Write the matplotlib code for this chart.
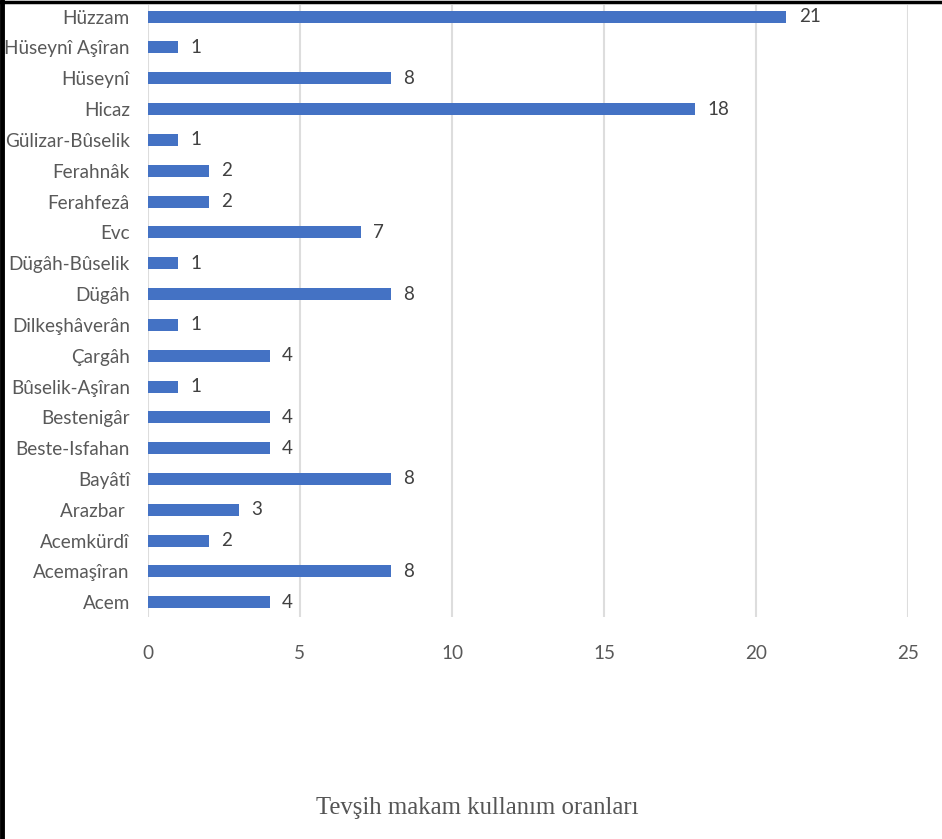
import matplotlib
matplotlib.use('Agg')
import matplotlib.pyplot as plt
from matplotlib.lines import Line2D

# makam names, bottom to top as drawn
makams = ['Acem', 'Acemaşîran', 'Acemkürdî', 'Arazbar ', 'Bayâtî', 'Beste-Isfahan',
          'Bestenigâr', 'Bûselik-Aşîran', 'Çargâh', 'Dilkeşhâverân', 'Dügâh',
          'Dügâh-Bûselik', 'Evc', 'Ferahfezâ', 'Ferahnâk', 'Gülizar-Bûselik',
          'Hicaz', 'Hüseynî', 'Hüseynî Aşîran', 'Hüzzam']
counts = [4, 8, 2, 3, 8, 4, 4, 1, 4, 1, 8, 1, 7, 2, 2, 1, 18, 8, 1, 21]
xticks = [0, 5, 10, 15, 20, 25]

bar_color = '#4472C4'
text_color = '#595959'

fig = plt.figure(figsize=(9.42, 8.39), dpi=100)
ax = fig.add_axes([0.157, 0.2646, 0.807, 0.7294])

pos = list(range(len(makams)))
ax.barh(pos, counts, height=0.39, color=bar_color, zorder=3)
for p, c in zip(pos, counts):
    ax.text(c + 0.4, p, str(c), va='center', ha='left', fontsize=13.5,
            color='#404040', family='Lato')

ax.set_xlim(0, 25)
ax.set_ylim(-0.477, 19.375)
ax.set_xticks(xticks)
ax.set_yticks(pos)
ax.set_yticklabels(makams)
ax.grid(axis='x', color='#DDDDDD', linewidth=1.5, zorder=0)
for s in ax.spines.values():
    s.set_visible(False)
ax.tick_params(axis='both', length=0, labelsize=13.6, labelcolor=text_color)
ax.tick_params(axis='x', pad=20)
ax.tick_params(axis='y', pad=13)
for lbl in ax.get_xticklabels() + ax.get_yticklabels():
    lbl.set_family('Lato')

fig.text(0.507, 0.037, 'Tevşih makam kullanım oranları', ha='center', va='center',
         fontsize=17.8, family='Liberation Serif', color='#555555')

# frame lines on the left and top edge
fig.add_artist(Line2D([0.0025, 0.0025], [0, 1], color='black', linewidth=3.5,
                      transform=fig.transFigure))
fig.add_artist(Line2D([0, 1], [0.998, 0.998], color='black', linewidth=2.5,
                      transform=fig.transFigure))

fig.savefig('out.png', dpi=100, facecolor='white')
